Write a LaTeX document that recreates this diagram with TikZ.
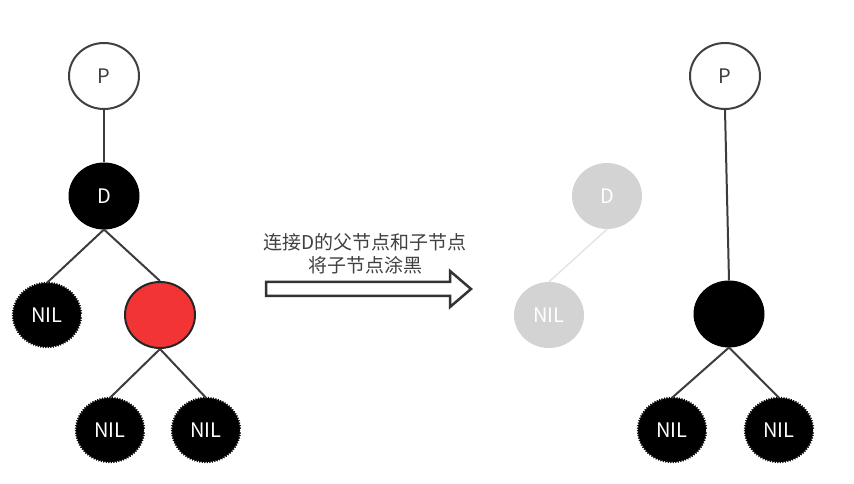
\documentclass[tikz,border=0pt]{standalone}
\usepackage{fontspec}
\setmainfont{Noto Sans CJK SC}
\usepackage{xcolor}
\usetikzlibrary{positioning, shapes.geometric, decorations.pathmorphing}

\definecolor{linegray}{HTML}{3C3C3C}
\definecolor{textgray}{HTML}{404040}
\definecolor{ghostgray}{HTML}{D3D3D3}
\definecolor{ghostline}{HTML}{E4E4E4}
\definecolor{redfill}{HTML}{F23434}

\begin{document}
\begin{tikzpicture}[x=1pt, y=1pt, on grid,
  tnode/.style={ellipse, minimum width=70pt, minimum height=66pt, inner sep=0pt, font=\fontsize{20}{22}\selectfont},
  whitenode/.style={tnode, draw=textgray, line width=2pt, fill=white, text=textgray},
  blacknode/.style={tnode, draw=black, line width=1pt, fill=black, text=white},
  rednode/.style={tnode, draw=black!85, line width=2pt, fill=redfill},
  nilnode/.style={tnode, minimum width=68pt, minimum height=64pt, draw=black, fill=black, text=white,
    decorate, decoration={zigzag, segment length=2.5pt, amplitude=1pt}},
  ghostnode/.style={tnode, fill=ghostgray, text=white},
  line/.style={draw=linegray, line width=2pt},
  ghost/.style={draw=ghostline, line width=1.5pt}]
\useasboundingbox (0,0) rectangle (854,484);
% Antes
\node[whitenode] (p) at (104,408) {P};
\node[blacknode, below=120pt of p] (d) {D};
\node[nilnode, below left=119pt and 57pt of d] (nil1) {NIL};
\node[rednode, below right=119pt and 56pt of d] (r) {};
\node[nilnode, below left=115pt and 50pt of r] (nil2) {NIL};
\node[nilnode, below right=115pt and 46pt of r] (nil3) {NIL};
\path
(p.south) edge[line] (d.north)
(d.south) edge[line] (nil1.north)
(d.south) edge[line] (r.north)
(r.south) edge[line] (nil2.north)
(r.south) edge[line] (nil3.north);
% Paso
\node[align=center, text=textgray, font=\fontsize{19}{23}\selectfont] (txt) at (365,230) {连接D的父节点和子节点\\将子节点涂黑};
\draw[draw=black!80, line width=2.5pt, fill=white, line join=miter]
(266,188) -- (450,188) -- (450,177) -- (471,195) -- (450,213) -- (450,202) -- (266,202) -- cycle;
\node[ghostnode] (gd) at (607,288) {D};
\node[ghostnode, below left=119pt and 58pt of gd] (gnil) {NIL};
\path (gd.south) edge[ghost] (gnil.north);
% Despues
\node[whitenode] (p2) at (725,408) {P};
\node[blacknode, below right=238pt and 4pt of p2] (b) {};
\node[nilnode, below left=116pt and 57pt of b] (nil4) {NIL};
\node[nilnode, below right=116pt and 50pt of b] (nil5) {NIL};
\path
(p2.south) edge[line] (b.north)
(b.south) edge[line] (nil4.north)
(b.south) edge[line] (nil5.north);
\end{tikzpicture}
\end{document}
